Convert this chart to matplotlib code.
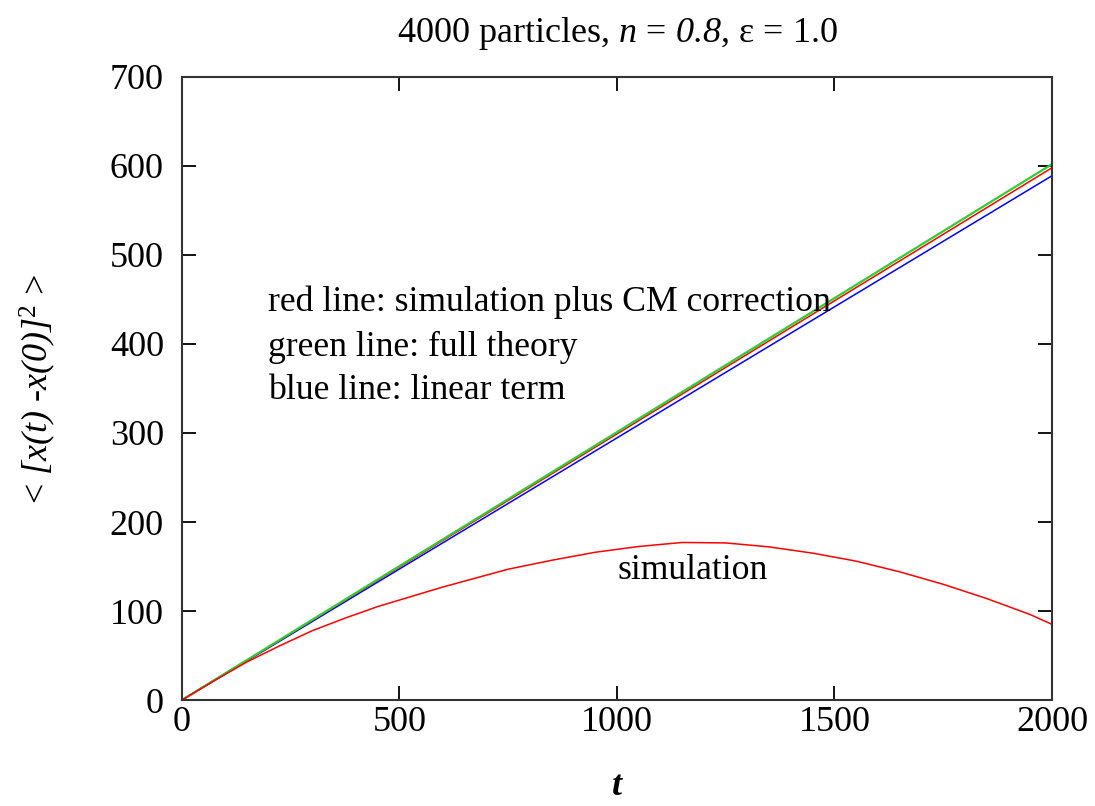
import matplotlib.pyplot as plt
import numpy as np

plt.rcParams['font.family'] = ['Liberation Serif', 'DejaVu Serif']
plt.rcParams['mathtext.fontset'] = 'custom'
plt.rcParams['mathtext.rm'] = 'Liberation Serif'
plt.rcParams['mathtext.it'] = 'Liberation Serif:italic'
plt.rcParams['mathtext.sf'] = 'Liberation Serif:italic'  # italic digits too

# straight lines: value at t=0 and t=2000
t_line = [0, 2000]
red_cm = [0, 598]        # simulation plus CM correction
green_theory = [0, 602]  # full theory
blue_linear = [0, 589]   # linear term

# simulation curve
t_sim = [0, 75, 150, 225, 300, 375, 450, 525, 600, 675, 750, 850, 950,
         1050, 1150, 1250, 1350, 1450, 1550, 1650, 1750, 1850, 1950, 2000]
sim = [0, 22, 43, 61, 78, 92, 105, 116, 127, 137, 147, 157, 166,
       172.5, 177, 176.5, 172, 165, 156, 144, 130, 114, 96, 85]

fig = plt.figure(figsize=(10.95, 8.06), dpi=100)
ax = fig.add_axes([0.1662, 0.1315, 0.7945, 0.773])

ax.plot(t_line, blue_linear, color='#0000ff', lw=1.1)
ax.plot(t_line, red_cm, color='#ff0000', lw=1.1)
ax.plot(t_line, green_theory, color='#33cc33', lw=1.6)
ax.plot(t_sim, sim, color='#ff0000', lw=1.1)

ax.set_xlim(0, 2000)
ax.set_ylim(0, 700)
ax.set_xticks([0, 500, 1000, 1500, 2000])
ax.set_yticks(range(0, 701, 100))
ax.tick_params(direction='in', length=10, width=1.3, top=True, right=True,
               labelsize=26)
ax.tick_params(axis='y', pad=13)
ax.tick_params(axis='x', pad=4)
for s in ax.spines.values():
    s.set_linewidth(1.5)
    s.set_color('#333333')

ax.set_title(r'4000 particles, $n$ = $\mathsf{0.8}$, ε = 1.0', fontsize=26, pad=25)
ax.set_xlabel('t', fontsize=26, fontstyle='italic', fontweight='bold')
ax.xaxis.set_label_coords(0.5, -0.113)
ax.set_ylabel(r'< $\mathsf{[x(t)\ }\text{-}\mathsf{x(0)]}^{2}$ >', fontsize=26)
ax.yaxis.set_label_coords(-0.143, 0.5)

ax.text(198, 447, 'red line: simulation plus CM correction', fontsize=25.7, va='center')
ax.text(198, 396, 'green line: full theory', fontsize=25.7, va='center')
ax.text(198, 348, 'blue line: linear term', fontsize=25.7, va='center')
ax.text(1175, 146, 'simulation', fontsize=25.7, ha='center', va='center')

fig.savefig('out.png', dpi=100)
